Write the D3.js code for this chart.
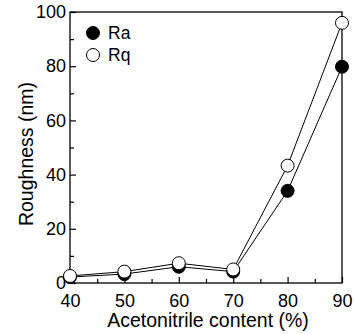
<!DOCTYPE html>
<html>
<head>
<meta charset="utf-8">
<script src="https://cdn.jsdelivr.net/npm/d3@7"></script>
<style>
  body { margin: 0; background: #fff; }
  text { font-family: "Liberation Sans", Arial, sans-serif; fill: #000; }
</style>
</head>
<body>
<div id="chart"></div>
<script>
const content = [40, 50, 60, 70, 80, 90];
const ra = [2.2, 3.3, 6.0, 4.2, 34, 79.8];
const rq = [2.6, 4.2, 7.3, 5.0, 43.3, 96];
const xTicks = [40, 50, 60, 70, 80, 90];
const yTicks = [0, 20, 40, 60, 80, 100];

const w = 354, h = 334;
const margin = { left: 70, right: 12, top: 12, bottom: 51 };

const svg = d3.select('#chart')
  .append('svg')
  .attr('width', w)
  .attr('height', h);

const x = d3.scaleLinear().domain([40, 90]).range([margin.left, w - margin.right]);
const y = d3.scaleLinear().domain([0, 100]).range([h - margin.bottom, margin.top]);

// frame
svg.append('rect')
  .attr('x', x(40)).attr('y', y(100))
  .attr('width', x(90) - x(40)).attr('height', y(0) - y(100))
  .attr('fill', 'none').attr('stroke', '#000').attr('stroke-width', 1.3);

// ticks (inward), major + minor
const xAxis = d3.axisBottom(x).tickValues(xTicks).tickSize(-6).tickPadding(10).tickFormat(d3.format('d'));
const gx = svg.append('g').attr('transform', 'translate(0,' + y(0) + ')').call(xAxis);
const xMinor = d3.axisBottom(x).tickValues(d3.range(45, 90, 10)).tickSize(-4).tickFormat('');
svg.append('g').attr('transform', 'translate(0,' + y(0) + ')').call(xMinor);

const yAxis = d3.axisLeft(y).tickValues(yTicks).tickSize(-6).tickPadding(4);
const gy = svg.append('g').attr('transform', 'translate(' + x(40) + ',0)').call(yAxis);
const yMinor = d3.axisLeft(y).tickValues(d3.range(10, 100, 20)).tickSize(-4).tickFormat('');
svg.append('g').attr('transform', 'translate(' + x(40) + ',0)').call(yMinor);

svg.selectAll('.domain').remove();
svg.selectAll('.tick line').attr('stroke', '#000').attr('stroke-width', 1.2);
svg.selectAll('.tick text')
  .style('font-family', '"Liberation Sans", Arial, sans-serif')
  .style('font-size', '18px')
  .attr('fill', '#000');
gx.selectAll('.tick text').attr('dy', '0.75em');

const line = d3.line().x((d, i) => x(content[i])).y(d => y(d));

function series(vals, fill) {
  svg.append('path')
    .datum(vals)
    .attr('d', line)
    .attr('fill', 'none')
    .attr('stroke', '#000')
    .attr('stroke-width', 1);
  svg.append('g').selectAll('circle')
    .data(vals)
    .enter()
    .append('circle')
    .attr('cx', (d, i) => x(content[i]))
    .attr('cy', d => y(d))
    .attr('r', 6.5)
    .attr('fill', fill)
    .attr('stroke', '#000')
    .attr('stroke-width', 1);
}
series(ra, '#000');
series(rq, '#fff');

// legend
const legend = [{ name: 'Ra', fill: '#000' }, { name: 'Rq', fill: '#fff' }];
const lg = svg.append('g').selectAll('g')
  .data(legend)
  .enter()
  .append('g')
  .attr('transform', (d, i) => 'translate(93,' + (33 + i * 22) + ')');
lg.append('circle').attr('r', 6.5).attr('fill', d => d.fill).attr('stroke', '#000').attr('stroke-width', 1);
lg.append('text').attr('x', 15).attr('dy', '0.35em').style('font-size', '17.5px').text(d => d.name);

// axis titles
svg.append('text')
  .attr('x', 208)
  .attr('y', 327)
  .attr('text-anchor', 'middle')
  .style('font-size', '19.5px')
  .text('Acetonitrile content (%)');

svg.append('text')
  .attr('transform', 'translate(33,154) rotate(-90)')
  .attr('text-anchor', 'middle')
  .style('font-size', '19.5px')
  .text('Roughness (nm)');
</script>
</body>
</html>
